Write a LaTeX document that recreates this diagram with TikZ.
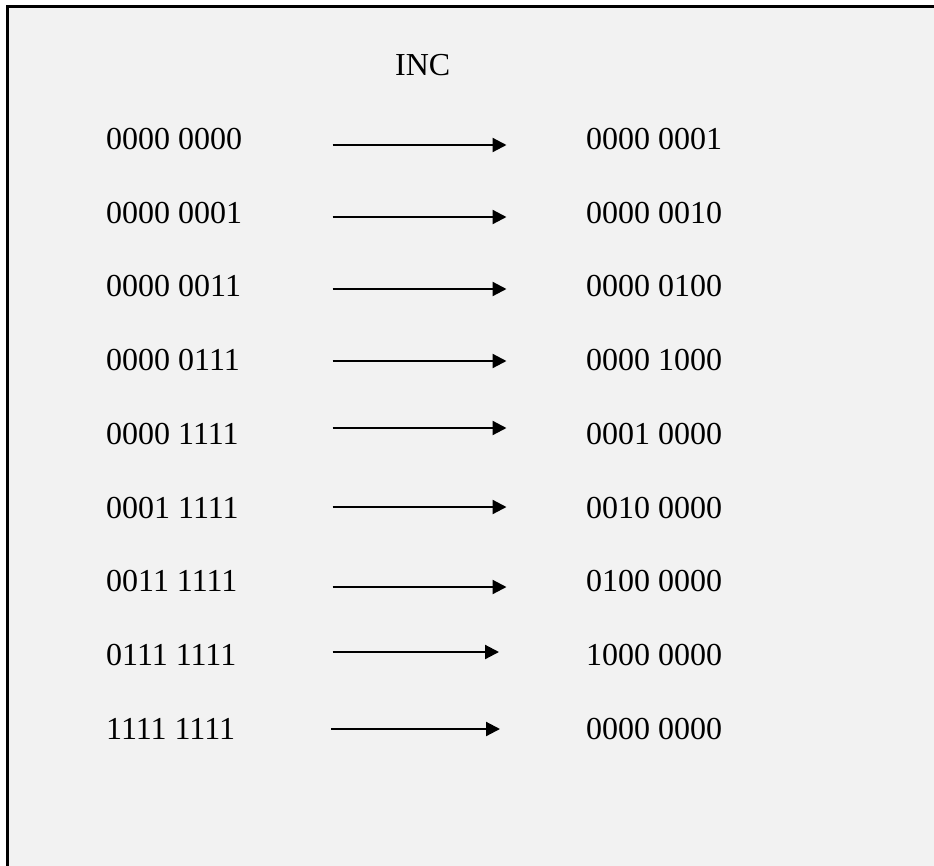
\documentclass[tikz,border=0pt]{standalone}
\usepackage{fontspec}
\setmainfont{Liberation Serif}
\usetikzlibrary{arrows.meta}
\begin{document}
\begin{tikzpicture}[x=1pt,y=-1pt,
  lbl/.style={anchor=base west, inner sep=0pt, font=\fontsize{32}{38}\selectfont},
  incarrow/.style={line width=2.2pt, -{Triangle[length=14pt,width=14pt]}}]
\useasboundingbox (0,0) rectangle (934,865);
% page, panel and its top/left frame
\fill[white] (0,0) rectangle (934,865);
\fill[black!5] (7,6) rectangle (940,870);
\draw[line width=3pt] (7,870) -- (7,6) -- (940,6);
% heading
\node[lbl] (inc) at (395,75.7) {INC};
% rows: value, incremented value, arrow height and arrow ends
\foreach \i/\a/\b/\ay/\ax/\bx in {
  1/0000 0000/0000 0001/145/332.7/506.5,
  2/0000 0001/0000 0010/217/332.7/506.5,
  3/0000 0011/0000 0100/289/332.7/506.5,
  4/0000 0111/0000 1000/361/332.7/506.5,
  5/0000 1111/0001 0000/428/332.7/506.5,
  6/0001 1111/0010 0000/507/332.7/506.5,
  7/0011 1111/0100 0000/587/332.7/506.5,
  8/0111 1111/1000 0000/652/332.7/499,
  9/1111 1111/0000 0000/729/331/500}{
  \pgfmathsetmacro\yb{149.5+73.7*(\i-1)}
  \node[lbl] (in\i) at (106,\yb) {\a};
  \node[lbl] (out\i) at (586,\yb) {\b};
  \coordinate (s\i) at (\ax,\ay);
  \coordinate (e\i) at (\bx,\ay);
  \draw[incarrow] (s\i) -- (e\i);
}
\end{tikzpicture}
\end{document}
